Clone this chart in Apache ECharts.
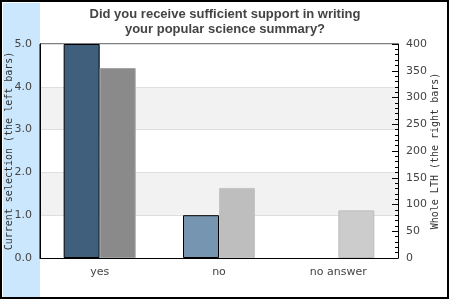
<!DOCTYPE html>
<html><head><meta charset="utf-8">
<script src="https://cdn.jsdelivr.net/npm/echarts@6/dist/echarts.min.js"></script>
<style>html,body{margin:0;padding:0;background:#fff}#c{width:450px;height:300px}</style>
</head><body><div id="c"></div>
<script>
var categories = ['yes', 'no', 'no answer'];
var currentSelection = [5.0, 1.0, 0];
var wholeLTH = [355, 131, 89];
var leftTicks = [0, 1, 2, 3, 4, 5];
var rightTicks = [0, 50, 100, 150, 200, 250, 300, 350, 400];
var leftColors = ['#3f5f7c', '#7595b0', '#7595b0'];
var rightColors = ['#8a8a8a', '#bebebe', '#cccccc'];
var rightBorders = ['#a0a0a0', '#c4c4c4', '#bcbcbc'];

var chart = echarts.init(document.getElementById('c'), null, {renderer: 'canvas'});
var tickFont = {fontFamily: 'DejaVu Sans', fontSize: 11, color: '#444'};
chart.setOption({
  animation: false,
  graphic: [
    {type: 'rect', z: -10, shape: {x: 3, y: 3, width: 37, height: 294}, style: {fill: '#cbe7fd'}},
    {type: 'rect', z: 100, shape: {x: 1, y: 1, width: 447, height: 297}, style: {fill: 'none', stroke: '#000', lineWidth: 2}}
  ],
  title: {
    text: 'Did you receive sufficient support in writing\nyour popular science summary?',
    left: 'center', top: 2,
    textStyle: {fontFamily: 'Liberation Sans', fontWeight: 'bold', fontSize: 13, color: '#444', lineHeight: 15}
  },
  grid: {left: 40, right: 52, top: 44, bottom: 42, show: true, borderColor: '#000', borderWidth: 1,
         backgroundColor: 'transparent', containLabel: false, outerBoundsMode: 'none'},
  xAxis: {
    type: 'category', data: categories,
    axisLine: {lineStyle: {color: '#000', width: 1}},
    axisTick: {show: false},
    axisLabel: Object.assign({margin: 9}, tickFont)
  },
  yAxis: [
    {
      type: 'value', min: leftTicks[0], max: leftTicks[leftTicks.length - 1], interval: 1,
      position: 'left',
      name: 'Current selection (the left bars)', nameLocation: 'middle', nameRotate: 90, nameGap: 26,
      nameMoveOverlap: false,
      nameTextStyle: {fontFamily: 'DejaVu Sans Mono', fontSize: 10, color: '#333'},
      axisLine: {show: true, lineStyle: {color: '#000'}},
      axisTick: {show: false},
      axisLabel: Object.assign({margin: 8, formatter: function (v) { return v.toFixed(1); }}, tickFont),
      splitLine: {show: true, lineStyle: {color: '#dedede'}},
      splitArea: {show: true, areaStyle: {color: ['#ffffff', '#f2f2f2']}}
    },
    {
      type: 'value', min: rightTicks[0], max: rightTicks[rightTicks.length - 1], interval: 50,
      position: 'right',
      name: 'Whole LTH (the right bars)', nameLocation: 'middle', nameRotate: 90, nameGap: 32,
      nameMoveOverlap: false,
      nameTextStyle: {fontFamily: 'DejaVu Sans Mono', fontSize: 10, color: '#333'},
      axisLine: {show: true, lineStyle: {color: '#000'}},
      axisTick: {show: true, inside: true, length: 6, lineStyle: {color: '#000'}},
      minorTick: {show: true, splitNumber: 5, length: 3, lineStyle: {color: '#000'}},
      axisLabel: Object.assign({margin: 8}, tickFont),
      splitLine: {show: false}
    }
  ],
  series: [
    {
      type: 'bar', yAxisIndex: 0, barWidth: 36, barGap: '0%',
      data: currentSelection.map(function (v, i) {
        return {value: v, itemStyle: {color: leftColors[i], borderColor: '#000', borderWidth: v > 0 ? 1 : 0}};
      })
    },
    {
      type: 'bar', yAxisIndex: 1, barWidth: 36,
      data: wholeLTH.map(function (v, i) {
        return {value: v, itemStyle: {color: rightColors[i], borderColor: rightBorders[i], borderWidth: 1}};
      })
    }
  ]
});
</script></body></html>
